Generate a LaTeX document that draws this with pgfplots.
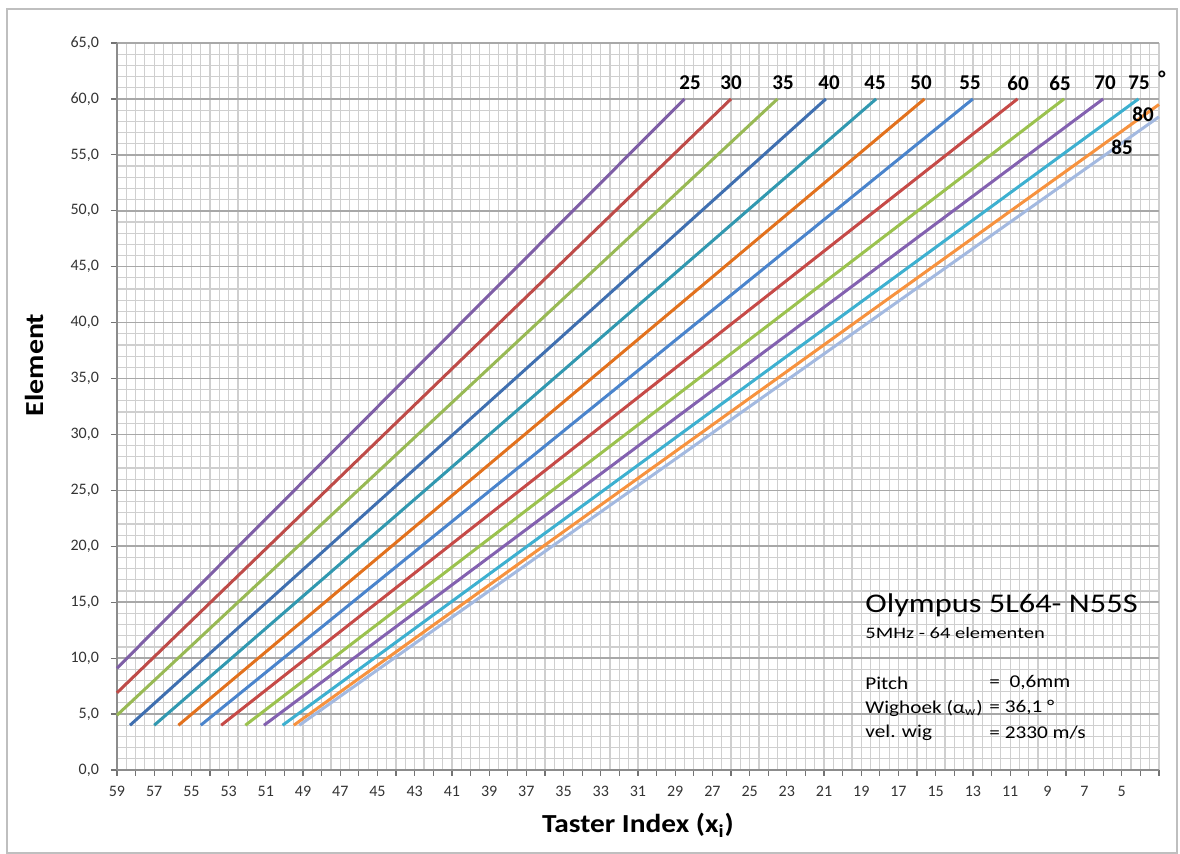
\documentclass[border=0pt]{standalone}
\usepackage{pgfplots}
\pgfplotsset{compat=1.18}
\usepackage{graphicx}
\usepackage{fontspec}
\setmainfont{Carlito}

\definecolor{c25}{HTML}{7E5EA6}
\definecolor{c30}{HTML}{BE4B48}
\definecolor{c35}{HTML}{98B954}
\definecolor{c40}{HTML}{3F6FB0}
\definecolor{c45}{HTML}{3198B0}
\definecolor{c50}{HTML}{E2711D}
\definecolor{c55}{HTML}{4A84CC}
\definecolor{c60}{HTML}{C64A47}
\definecolor{c65}{HTML}{9BC24E}
\definecolor{c70}{HTML}{8361B0}
\definecolor{c75}{HTML}{3DB0D0}
\definecolor{c80}{HTML}{F7923E}
\definecolor{c85}{HTML}{A3B9E0}
\definecolor{gridminor}{HTML}{CFCFCF}
\definecolor{gridmajor}{HTML}{A8A8A8}

\begin{document}
\begin{tikzpicture}[x=1pt,y=1pt]
\path (0,0) rectangle (590,427);
\draw[black!25, line width=0.8pt] (3.5,0.5) rectangle (588.5,422.5);

\begin{axis}[
  at={(58.5pt,42pt)}, anchor=south west,
  scale only axis,
  width=521pt, height=363.5pt,
  x dir=reverse,
  xmin=3, xmax=59,
  ymin=0, ymax=65,
  xtick={3,...,59},
  xticklabels={,,5,,7,,9,,11,,13,,15,,17,,19,,21,,23,,25,,27,,29,,31,,33,,35,,37,,39,,41,,43,,45,,47,,49,,51,,53,,55,,57,,59},
  minor x tick num=1,
  ytick={0,5,...,65},
  minor y tick num=4,
  grid=both,
  major x grid style={gridminor, line width=0.6pt},
  minor x grid style={gridminor, line width=0.6pt},
  major y grid style={gridmajor, line width=0.8pt},
  minor y grid style={gridminor, line width=0.6pt},
  axis line style={draw=none},
  tick align=outside,
  major tick length=3pt,
  minor tick length=0pt,
  tick style={black!55, line width=0.6pt},
  xtick pos=lower,
  ytick pos=left,
  /pgf/number format/.cd, fixed, fixed zerofill, precision=1, use comma, assume math mode=true,
  /pgfplots/.cd,
  ticklabel style={font=\fontsize{8}{9}\selectfont, text=black!80},
  xticklabel style={yshift=-1.5pt},
  yticklabel style={xshift=-2.5pt},
  xlabel={\scalebox{1.13}[1]{\textbf{Taster Index (x\textsubscript{i})}}},
  ylabel={\scalebox{1.15}[1]{\textbf{Element}}},
  label style={font=\fontsize{13}{15}\selectfont},
  xlabel style={at={(0.5,-0.076)}, anchor=center},
  ylabel style={at={(-0.079,0.557)}, anchor=center},
  clip=false,
]
\draw[black!45, line width=0.7pt] (axis cs:59,0) -- (axis cs:59,65);
\draw[black!45, line width=0.7pt] (axis cs:59,0) -- (axis cs:3,0);

\addplot[c25, line width=1.5pt] coordinates {(59,9.1) (28.5,60)};
\addplot[c30, line width=1.5pt] coordinates {(59,6.9) (26.0,60)};
\addplot[c35, line width=1.5pt] coordinates {(59,4.9) (23.5,60)};
\addplot[c40, line width=1.5pt] coordinates {(58.3,4) (20.9,60)};
\addplot[c45, line width=1.5pt] coordinates {(57.0,4) (18.2,60)};
\addplot[c50, line width=1.5pt] coordinates {(55.7,4) (15.6,60)};
\addplot[c55, line width=1.5pt] coordinates {(54.5,4) (13.0,60)};
\addplot[c60, line width=1.5pt] coordinates {(53.4,4) (10.6,60)};
\addplot[c65, line width=1.5pt] coordinates {(52.1,4) (8.1,60)};
\addplot[c70, line width=1.5pt] coordinates {(51.1,4) (6.0,60)};
\addplot[c75, line width=1.5pt] coordinates {(50.1,4) (4.1,60)};
\addplot[c80, line width=1.5pt] coordinates {(49.5,4) (3,59.5)};
\addplot[c85, line width=1.5pt] coordinates {(49.2,4) (3,58.4)};
\end{axis}

% angle labels
\begin{scope}[every node/.style={font=\fontsize{10.5}{12}\selectfont\bfseries, inner sep=0pt}]
\node at (345,385.5) {25};
\node at (365.5,385.5) {30};
\node at (391.5,385.5) {35};
\node at (414.5,385.5) {40};
\node at (437.5,385.5) {45};
\node at (460.5,385.5) {50};
\node at (485,385.5) {55};
\node at (509,385.5) {60};
\node at (530,385.5) {65};
\node at (552.5,385.5) {70};
\node at (569.5,385.5) {75};
\node at (581,388) {°};
\node at (571.5,370) {80};
\node at (561,353.5) {85};
\end{scope}

% info box
\node[anchor=west, inner sep=0pt, font=\fontsize{13.5}{15}\selectfont] at (432.5,124.5) {\scalebox{1.2}[1]{Olympus 5L64- N55S}};
\node[anchor=west, inner sep=0pt, font=\fontsize{8}{9}\selectfont] at (432.5,110.5) {\scalebox{1.28}[1]{5MHz - 64 elementen}};
\begin{scope}[every node/.style={anchor=west, inner sep=0pt, font=\fontsize{9}{10}\selectfont}]
\node at (432.5,85.5) {\scalebox{1.18}[1]{Pitch}};
\node at (432.5,73) {\scalebox{1.18}[1]{Wighoek (α\textsubscript{w})}};
\node at (432.5,60.5) {\scalebox{1.18}[1]{vel. wig}};
\node at (494.5,85.5) {\scalebox{1.18}[1]{=\ \ 0,6mm}};
\node at (494.5,73) {\scalebox{1.18}[1]{= 36,1 °}};
\node at (494.5,60.5) {\scalebox{1.18}[1]{= 2330 m/s}};
\end{scope}
\end{tikzpicture}
\end{document}
